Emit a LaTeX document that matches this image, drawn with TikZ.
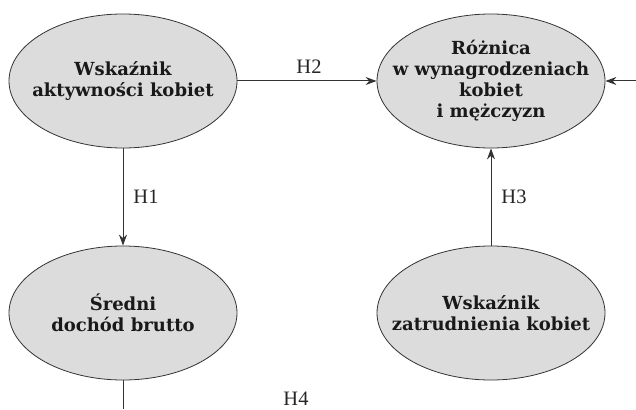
\documentclass[tikz,border=0pt]{standalone}
\usepackage{fontspec}
\setmainfont{Liberation Serif}
\newfontfamily\boldslab{DejaVu Serif}
\usetikzlibrary{shapes.geometric,arrows.meta}
\definecolor{ellfill}{HTML}{DCDCDC}
\definecolor{edge}{HTML}{333333}
\tikzset{
  ell/.style={ellipse, draw=edge, line width=0.8pt, fill=ellfill, minimum width=228pt, minimum height=134pt, inner xsep=-50pt, inner ysep=0pt, align=center, font=\boldslab\bfseries\fontsize{18}{21}\selectfont, text=black!90},
  conn/.style={draw=edge, line width=1pt, -{Stealth[length=11pt,width=8pt]}},
  plain/.style={draw=edge, line width=1pt},
  hlab/.style={font=\fontsize{20.5}{22}\selectfont, text=black!85, inner sep=0pt}
}
\begin{document}
\begin{tikzpicture}[x=1pt,y=-1pt]
\useasboundingbox (0,0) rectangle (636,409);
\node[ell] (akt) at (123,81) {Wskaźnik\\aktywności kobiet};
\node[ell] (roz) at (491,81) {Różnica\\w wynagrodzeniach\\kobiet\\i mężczyzn};
\node[ell] (sre) at (123,313) {Średni\\dochód brutto};
\node[ell] (zat) at (491,313) {Wskaźnik\\zatrudnienia kobiet};
\coordinate (rin) at (636,81);
\coordinate (bout) at (123,409);
\path[conn] (akt) -- (roz);
\path[conn] (akt) -- (sre);
\path[conn] (zat) -- (roz);
\path[conn] (rin) -- (roz);
\path[plain] (sre) -- (bout);
\node[hlab] (h2) at (309,67) {H2};
\node[hlab] (h1) at (146,197) {H1};
\node[hlab] (h3) at (514,197) {H3};
\node[hlab] (h4) at (296,399) {H4};
\end{tikzpicture}
\end{document}
